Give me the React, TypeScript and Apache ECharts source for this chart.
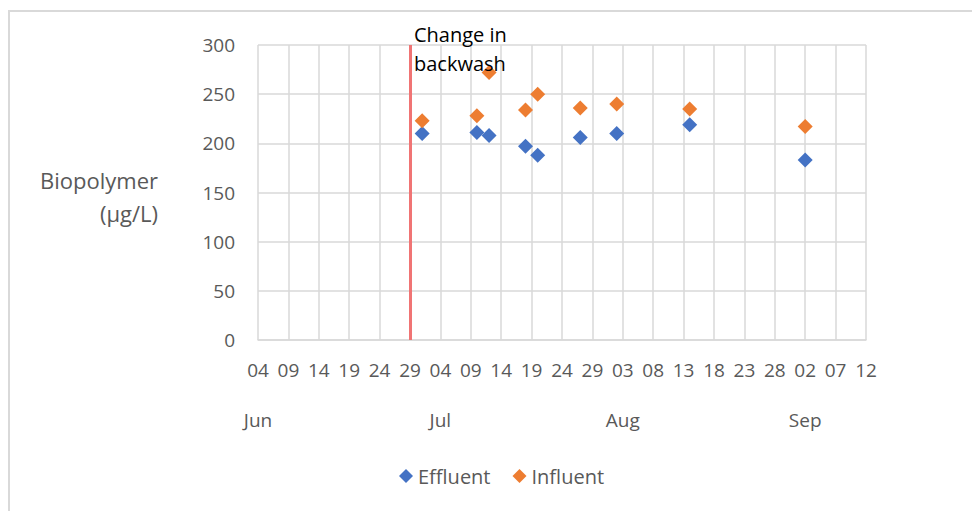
import React, { useEffect, useRef } from "react";
import * as echarts from "echarts";

// Sampling dates (MM-DD) and biopolymer concentrations in µg/L
const sampleDates = ["07-01", "07-10", "07-12", "07-18", "07-20", "07-27", "08-02", "08-14", "09-02"];
const effluent = [210, 211, 208, 197, 188, 206, 210, 219, 183];
const influent = [223, 228, 272, 234, 250, 236, 240, 235, 217];

// Axis range (days counted from the axis start) and the backwash change date
const axisStart = "06-04";
const axisSpanDays = 100;
const tickStepDays = 5;
const backwashChange = "06-29";
const yTicks = { min: 0, max: 300, step: 50 };

const YEAR = 2019;
const DAY_MS = 86400000;
const MONTHS = ["Jan", "Feb", "Mar", "Apr", "May", "Jun", "Jul", "Aug", "Sep", "Oct", "Nov", "Dec"];

const toUTC = (md: string) => {
  const [m, d] = md.split("-").map(Number);
  return Date.UTC(YEAR, m - 1, d);
};
const startMs = toUTC(axisStart);
const dayOffset = (md: string) => Math.round((toUTC(md) - startMs) / DAY_MS);
const offsetToDate = (v: number) => new Date(startMs + Math.round(v) * DAY_MS);

const FONT = "'Open Sans', sans-serif";
const GREY_TEXT = "#595959";
const GRID = "#d9d9d9";

export default function App() {
  const ref = useRef<HTMLDivElement>(null);

  useEffect(() => {
    if (!ref.current) return;
    const chart = echarts.init(ref.current, undefined, { renderer: "svg" });

    const effData = sampleDates.map((d, i) => [dayOffset(d), effluent[i]]);
    const infData = sampleDates.map((d, i) => [dayOffset(d), influent[i]]);

    chart.setOption({
      animation: false,
      backgroundColor: "#ffffff",
      textStyle: { fontFamily: FONT },
      grid: { left: 258, right: 106, top: 45, bottom: 171, containLabel: false },
      xAxis: [
        {
          type: "value",
          min: 0,
          max: axisSpanDays,
          interval: tickStepDays,
          axisLine: { show: true, lineStyle: { color: GRID, width: 1.5 } },
          axisTick: { show: false },
          splitLine: { show: true, lineStyle: { color: GRID, width: 1.5 } },
          axisLabel: {
            color: GREY_TEXT,
            fontSize: 19,
            fontFamily: FONT,
            margin: 20,
            formatter: (v: number) => String(offsetToDate(v).getUTCDate()).padStart(2, "0"),
          },
        },
        {
          type: "value",
          position: "bottom",
          offset: 50,
          min: 0,
          max: axisSpanDays,
          interval: tickStepDays,
          axisLine: { show: false },
          axisTick: { show: false },
          splitLine: { show: false },
          axisLabel: {
            color: GREY_TEXT,
            fontSize: 19,
            fontFamily: FONT,
            margin: 20,
            formatter: (v: number) => {
              const d = offsetToDate(v);
              const prev = offsetToDate(v - tickStepDays);
              if (v === 0 || prev.getUTCMonth() !== d.getUTCMonth()) return MONTHS[d.getUTCMonth()];
              return "";
            },
          },
        },
      ],
      yAxis: {
        type: "value",
        min: yTicks.min,
        max: yTicks.max,
        interval: yTicks.step,
        axisLine: { show: false },
        axisTick: { show: false },
        splitLine: { show: true, lineStyle: { color: GRID, width: 1.5 } },
        axisLabel: { color: GREY_TEXT, fontSize: 19, fontFamily: FONT, margin: 23 },
      },
      legend: {
        left: 394,
        top: 461,
        icon: "diamond",
        itemWidth: 14,
        itemHeight: 14,
        itemGap: 22,
        textStyle: { color: GREY_TEXT, fontSize: 20, fontFamily: FONT },
        data: ["Effluent", "Influent"],
      },
      series: [
        {
          name: "Effluent",
          type: "scatter",
          symbol: "diamond",
          symbolSize: 15,
          itemStyle: { color: "#4472C4", opacity: 1 },
          data: effData,
          z: 3,
          markLine: {
            silent: true,
            symbol: "none",
            label: { show: false },
            lineStyle: { color: "#F07474", width: 3, type: "solid", opacity: 1 },
            data: [{ xAxis: dayOffset(backwashChange) }],
          },
        },
        {
          name: "Influent",
          type: "scatter",
          symbol: "diamond",
          symbolSize: 15,
          itemStyle: { color: "#ED7D31", opacity: 1 },
          data: infData,
          z: 4,
        },
      ],
      graphic: [
        {
          type: "rect",
          shape: { x: 9, y: 11, width: 1000, height: 600 },
          style: { fill: "none", stroke: "#d9d9d9", lineWidth: 2 },
          silent: true,
          z: 0,
        },
        {
          type: "text",
          x: 158,
          y: 180,
          style: {
            text: "Biopolymer",
            fill: GREY_TEXT,
            font: `22px ${FONT}`,
            textAlign: "right",
            textVerticalAlign: "middle",
          },
        },
        {
          type: "text",
          x: 158,
          y: 213,
          style: {
            text: "(µg/L)",
            fill: GREY_TEXT,
            font: `22px ${FONT}`,
            textAlign: "right",
            textVerticalAlign: "middle",
          },
        },
        {
          type: "text",
          x: 414,
          y: 34,
          z: 10,
          style: {
            text: "Change in",
            fill: "#000000",
            font: `20px ${FONT}`,
            textAlign: "left",
            textVerticalAlign: "middle",
          },
        },
        {
          type: "text",
          x: 414,
          y: 63,
          z: 10,
          style: {
            text: "backwash",
            fill: "#000000",
            font: `20px ${FONT}`,
            textAlign: "left",
            textVerticalAlign: "middle",
          },
        },
      ],
    });

    return () => chart.dispose();
  }, []);

  return (
    <div
      ref={ref}
      style={{ position: "absolute", left: 0, top: 0, width: 972, height: 511 }}
    />
  );
}
